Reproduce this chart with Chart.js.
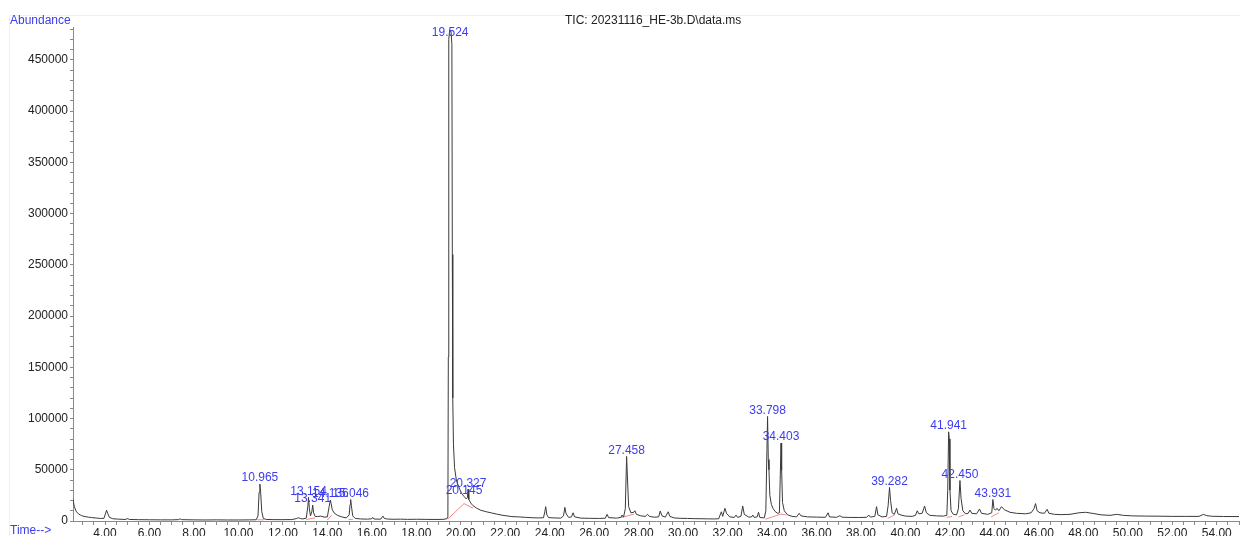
<!DOCTYPE html>
<html>
<head>
<meta charset="utf-8">
<title>TIC: 20231116_HE-3b.D\data.ms</title>
<script src="https://cdn.jsdelivr.net/npm/chart.js@4.4.1/dist/chart.umd.min.js"></script>
<style>
  html, body { margin: 0; padding: 0; background: #fff; }
  #tic { display: block; }
</style>
</head>
<body>
<canvas id="tic" width="1240" height="536"></canvas>
<script>
// retention time (min) and abundance
const times = [
  2.56, 2.62, 2.70, 2.80, 2.95, 3.10, 3.25, 3.40, 3.60, 3.80, 3.95, 4.02, 4.07, 4.12, 4.20, 4.35, 4.60, 4.90,
  5.02, 5.10, 5.50, 6.00, 6.50, 7.00, 7.30, 7.38, 7.45, 8.00, 8.50, 9.00, 9.50, 10.00, 10.50, 10.80,
  10.88, 10.93, 10.965, 11.00, 11.05, 11.12, 11.25, 11.60, 12.00, 12.40, 12.60, 12.70, 12.80, 12.90,
  13.05, 13.12, 13.154, 13.19, 13.24, 13.30, 13.341, 13.38, 13.45, 13.55, 13.70, 13.85, 14.00, 14.08,
  14.136, 14.17, 14.22, 14.30, 14.45, 14.65, 14.85, 14.98, 15.02, 15.046, 15.08, 15.14, 15.25, 15.50,
  15.80, 16.00, 16.04, 16.10, 16.40, 16.50, 16.56, 16.70, 17.00, 17.30, 17.60, 18.00, 18.40, 18.80,
  19.20, 19.38, 19.42, 19.44, 19.46, 19.50, 19.56, 19.60, 19.62, 19.64, 19.67, 19.72, 19.80, 19.95,
  20.05, 20.145, 20.25, 20.30, 20.327, 20.36, 20.45, 20.55, 20.70, 20.90, 21.15, 21.40, 21.60, 21.90,
  22.30, 22.60, 22.90, 23.20, 23.50, 23.72, 23.78, 23.82, 23.87, 23.95, 24.20, 24.50, 24.62, 24.68,
  24.74, 24.85, 24.98, 25.05, 25.12, 25.40, 25.80, 26.20, 26.50, 26.58, 26.65, 27.00, 27.20, 27.25,
  27.32, 27.40, 27.458, 27.50, 27.55, 27.65, 27.78, 27.83, 27.90, 28.10, 28.30, 28.40, 28.48, 28.70,
  28.90, 28.97, 29.05, 29.20, 29.33, 29.40, 29.60, 29.90, 30.20, 30.50, 30.80, 31.10, 31.40, 31.60,
  31.72, 31.78, 31.88, 31.95, 32.10, 32.30, 32.38, 32.45, 32.60, 32.68, 32.75, 32.95, 33.08, 33.13,
  33.20, 33.33, 33.39, 33.45, 33.65, 33.72, 33.77, 33.798, 33.83, 33.86, 33.90, 33.97, 34.05, 34.15,
  34.25, 34.33, 34.37, 34.403, 34.43, 34.47, 34.55, 34.70, 34.90, 35.10, 35.22, 35.30, 35.60, 36.00,
  36.40, 36.52, 36.58, 36.90, 37.05, 37.15, 37.50, 37.90, 38.25, 38.35, 38.42, 38.62, 38.70, 38.76,
  38.95, 39.15, 39.22, 39.282, 39.33, 39.40, 39.50, 39.60, 39.66, 39.80, 40.00, 40.30, 40.45, 40.53,
  40.60, 40.75, 40.86, 40.94, 41.10, 41.40, 41.70, 41.86, 41.90, 41.941, 41.97, 42.00, 42.05, 42.15,
  42.30, 42.38, 42.45, 42.50, 42.58, 42.70, 42.82, 42.90, 42.98, 43.20, 43.33, 43.42, 43.70, 43.88,
  43.931, 43.98, 44.05, 44.12, 44.20, 44.32, 44.45, 44.70, 45.00, 45.40, 45.65, 45.78, 45.85, 45.92,
  46.05, 46.25, 46.37, 46.45, 46.70, 47.00, 47.40, 47.80, 48.10, 48.40, 48.80, 49.20, 49.50, 49.80,
  50.20, 50.80, 51.40, 52.00, 52.60, 53.20, 53.40, 53.55, 53.80, 54.30, 55.00
];
const abundance = [
  21000, 14000, 9500, 7000, 5200, 4300, 3800, 3300, 2900, 2500, 2600, 7000, 10500, 7500, 3500, 2200, 1800, 1500,
  2300, 1500, 1300, 1200, 1100, 1100, 1300, 2100, 1300, 1100, 1000, 1100, 1000, 1000, 1100, 1200,
  5000, 28000, 36000, 28000, 9000, 2500, 1500, 1300, 1300, 1400, 2300, 3200, 2300, 2000,
  2800, 14000, 23000, 12000, 5000, 9000, 15500, 8000, 4500, 4300, 4800, 3800, 4000, 14000,
  20500, 17000, 11000, 8000, 5500, 4000, 3000, 6000, 16000, 21000, 15000, 5000, 2500, 2000,
  1800, 2200, 3500, 1900, 1800, 4800, 2500, 1900, 1700, 1800, 1600, 1700, 1600, 1500,
  1600, 2200, 4000, 160000, 470000, 479000, 478000, 465000, 260000, 120000, 75000, 52000, 40000, 31000,
  26500, 24000, 21500, 23000, 31000, 21000, 17500, 15000, 12700, 10500, 9000, 7800, 6800, 5500,
  4300, 4000, 3600, 3200, 3000, 3200, 9000, 14000, 6000, 3300, 3000, 2800, 5000, 13300,
  7000, 3500, 4000, 8000, 4000, 2800, 2600, 2500, 2700, 6500, 3300, 2800, 3500, 5800,
  3800, 12000, 63000, 40000, 14000, 8000, 8500, 10000, 6500, 5000, 4500, 6500, 4500, 3700,
  4000, 9700, 5000, 3800, 9000, 4500, 3000, 2600, 2500, 2300, 2200, 2100, 2000, 2200,
  9000, 4500, 12400, 7500, 4000, 3500, 5800, 3500, 4500, 14600, 6500, 3800, 4000, 5800,
  3500, 4000, 8500, 3500, 3000, 10000, 70000, 102000, 60000, 50000, 25000, 16000, 12000, 9000,
  7500, 8000, 45000, 76000, 50000, 18000, 10000, 6000, 4500, 4000, 7500, 5000, 4000, 3800,
  3600, 8000, 4000, 3600, 5200, 3700, 3500, 3400, 3600, 5800, 3800, 4500, 14000, 6000,
  4000, 4500, 15000, 32800, 20000, 8000, 6500, 12400, 7000, 5800, 4800, 4500, 5500, 10000,
  7000, 7500, 14600, 8000, 5500, 5000, 4800, 5500, 30000, 87000, 80000, 30000, 10000, 6500,
  6000, 12000, 39500, 22000, 10000, 7000, 7500, 10700, 7500, 7000, 11700, 7500, 6500, 8000,
  21000, 12000, 10500, 12400, 10000, 14000, 11000, 8500, 7500, 7000, 8000, 12000, 17000, 10000,
  8000, 7500, 11400, 7500, 6500, 6200, 6500, 8000, 8500, 7500, 6000, 5500, 6500, 5500,
  5000, 4800, 4700, 4500, 4500, 4500, 6500, 5200, 4600, 4400, 4300
];

// integration baselines (red), null = gap
const baseTimes = [
  10.85, 11.15, null, 13.05, 13.45, null, 14.00, 14.20, null, 14.95, 15.15, null,
  19.42, 20.145, 20.55, null, 27.20, 27.80, null, 33.70, 34.40, 34.65, null,
  39.20, 39.50, null, 41.85, 42.10, null, 42.38, 42.65, null, 43.85, 44.20
];
const baseValues = [
  1200, 1200, null, 1500, 3000, null, 1000, 6000, null, 1500, 1600, null,
  2000, 17000, 12500, null, 3300, 6800, null, 1700, 6800, 5800, null,
  2600, 5800, null, 3500, 4500, null, 4000, 6000, null, 4000, 8000
];

// peak annotations
const peakLabels = ['10.965', '13.154', '13.341', '14.136', '15.046', '19.524', '20.145', '20.327',
  '27.458', '33.798', '34.403', '39.282', '41.941', '42.450', '43.931'];
const peakTimes = [10.965, 13.154, 13.341, 14.136, 15.046, 19.524, 20.145, 20.327,
  27.458, 33.798, 34.403, 39.282, 41.941, 42.450, 43.931];
const peakValues = [36000, 23000, 15500, 20500, 21000, 479000, 24000, 31000,
  63000, 102000, 76000, 32800, 87000, 39500, 21000];

// axis ticks
const yLabelTicks = [0, 50000, 100000, 150000, 200000, 250000, 300000, 350000, 400000, 450000];
const yMinorStep = 10000;
const xLabelTicks = [4, 6, 8, 10, 12, 14, 16, 18, 20, 22, 24, 26, 28, 30, 32, 34, 36, 38, 40,
  42, 44, 46, 48, 50, 52, 54];
const xMinorStep = 0.5;

const xMin = 2.56, xMax = 55.0;
const yMax = 482000;

const FONT = '"Liberation Sans", Arial, sans-serif';
const BLUE = '#3c3cf0';

const minorTicks = (from, to, step) => {
    const out = [];
    for (let i = Math.ceil(from / step); i * step <= to; i++) out.push({ value: +(i * step).toFixed(3) });
    return out;
};

const decor = {
    id: 'decor',
    afterDraw(chart) {
        const { ctx, chartArea, scales } = chart;
        ctx.save();

        // faint frame
        ctx.strokeStyle = '#e4f6e4';
        ctx.lineWidth = 1;
        ctx.beginPath();
        ctx.moveTo(9.5, 536);
        ctx.lineTo(9.5, 15.5);
        ctx.lineTo(1240, 15.5);
        ctx.stroke();

        ctx.font = '12px ' + FONT;
        ctx.textBaseline = 'middle';
        ctx.textAlign = 'left';
        ctx.fillStyle = BLUE;
        ctx.fillText('Abundance', 10, 21);
        ctx.fillText('Time-->', 10, 531);

        ctx.fillStyle = '#222';
        ctx.fillText('TIC: 20231116_HE-3b.D\\data.ms', 565, 21);

        // peak labels
        ctx.fillStyle = BLUE;
        ctx.textAlign = 'center';
        ctx.textBaseline = 'bottom';
        peakLabels.forEach((lbl, i) => {
            const px = scales.x.getPixelForValue(peakTimes[i]);
            let py = scales.y.getPixelForValue(peakValues[i]);
            py = Math.max(py, chartArea.top + 12);
            ctx.fillText(lbl, px, py);
        });
        ctx.restore();
    }
};

new Chart(document.getElementById('tic'), {
    type: 'line',
    data: {
        datasets: [
            {
                data: times.map((t, i) => ({ x: t, y: abundance[i] })),
                borderColor: '#3a3a3a',
                borderWidth: 1,
                pointRadius: 0,
                tension: 0,
                fill: false
            },
            {
                data: baseTimes.map((t, i) => ({ x: t, y: baseValues[i] })),
                borderColor: '#f08a8a',
                borderWidth: 1,
                pointRadius: 0,
                spanGaps: false,
                fill: false
            }
        ]
    },
    options: {
        responsive: false,
        animation: false,
        layout: { padding: { top: 27, right: 0, left: 0, bottom: 0 } },
        plugins: { legend: { display: false }, tooltip: { enabled: false } },
        scales: {
            x: {
                type: 'linear',
                min: xMin, max: xMax,
                afterFit: (scale) => { scale.height = 15; },
                afterBuildTicks: (scale) => { scale.ticks = minorTicks(3, xMax, xMinorStep); },
                border: { color: '#8a8a8a' },
                grid: { drawOnChartArea: false, tickLength: 4, color: '#8a8a8a' },
                ticks: {
                    autoSkip: false,
                    maxRotation: 0,
                    padding: 1,
                    color: '#222',
                    font: { family: FONT, size: 12 },
                    callback: (v) => (xLabelTicks.includes(v) ? v.toFixed(2) : '')
                }
            },
            y: {
                min: 0, max: yMax,
                afterFit: (scale) => { scale.width = 73; },
                afterBuildTicks: (scale) => { scale.ticks = minorTicks(0, yMax, yMinorStep); },
                border: { color: '#8a8a8a' },
                grid: { drawOnChartArea: false, tickLength: 3, color: '#8a8a8a' },
                ticks: {
                    autoSkip: false,
                    padding: 2,
                    color: '#222',
                    font: { family: FONT, size: 12 },
                    callback: (v) => (yLabelTicks.includes(v) ? String(v) : '')
                }
            }
        }
    },
    plugins: [decor]
});
</script>
</body>
</html>
